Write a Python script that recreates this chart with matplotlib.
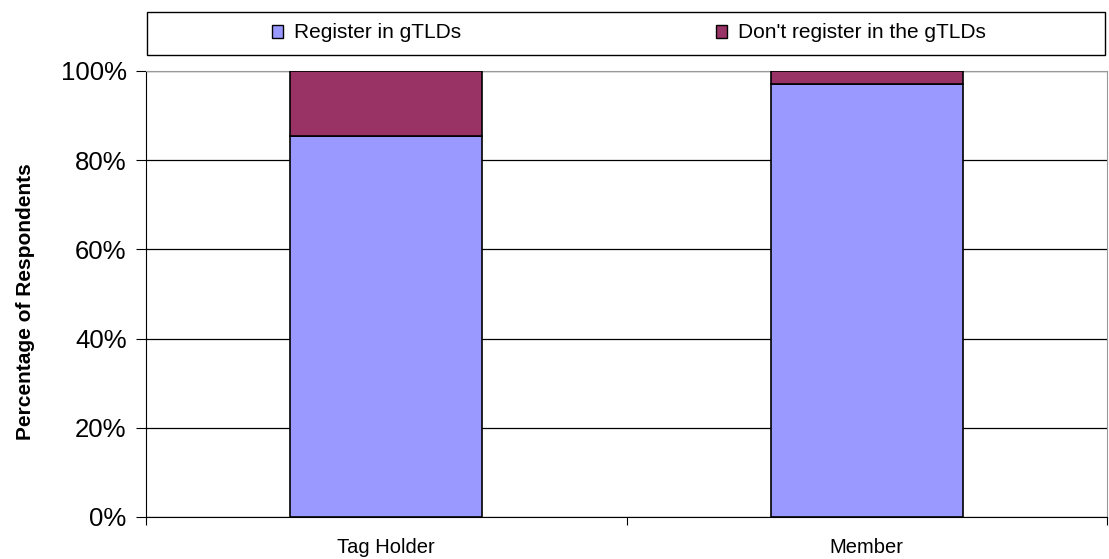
import matplotlib
matplotlib.use("Agg")
import matplotlib.pyplot as plt
import matplotlib.ticker as ticker
from matplotlib.patches import Patch, Rectangle

plt.rcParams["font.family"] = ["Liberation Sans", "DejaVu Sans"]

categories = ["Tag Holder", "Member"]
register = [85.4, 97.0]
dont_register = [14.6, 3.0]
series_labels = ["Register in gTLDs", "Don't register in the gTLDs"]
colors = ["#9999FF", "#993366"]

W, H = 1109, 559
fig = plt.figure(figsize=(W / 100, H / 100), dpi=100)
ax = fig.add_axes([146 / W, 1 - 517 / H, 961 / W, 446 / H])

x = [0.5, 1.5]
ax.bar(x, register, width=0.4, color=colors[0], edgecolor="black", linewidth=1.2, zorder=3)
ax.bar(x, dont_register, bottom=register, width=0.4, color=colors[1],
       edgecolor="black", linewidth=1.2, zorder=3)

ax.set_xlim(0, 2)
ax.set_ylim(0, 100)
ax.yaxis.set_major_locator(ticker.MultipleLocator(20))
ax.yaxis.set_major_formatter(ticker.FuncFormatter(lambda v, p: f"{v:.0f}%"))
ax.set_xticks([0, 1, 2])
ax.set_xticklabels([])
ax.set_xticks(x, minor=True)
ax.set_xticklabels(categories, minor=True, fontsize=14.5)
ax.tick_params(axis="x", which="minor", length=0, pad=15)
ax.tick_params(axis="x", which="major", length=6, direction="out")
ax.tick_params(axis="y", length=7, direction="out", labelsize=18.5, pad=7)

ax.grid(axis="y", color="black", linewidth=0.9, zorder=0)
for s in ["top", "right"]:
    ax.spines[s].set_color("#999999")
ax.spines["left"].set_color("black")
ax.spines["bottom"].set_color("black")

ax.set_ylabel("Percentage of Respondents", fontsize=15, fontweight="bold")
ax.yaxis.set_label_coords(-0.115, 0.482)

# legend box spanning the top
fig.add_artist(Rectangle((147 / W, 1 - 55 / H), 958 / W, 43 / H, transform=fig.transFigure,
                         facecolor="white", edgecolor="black", linewidth=1.0))
for lab, col, px in zip(series_labels, colors, [272, 716]):
    fig.legend([Patch(facecolor=col, edgecolor="black")], [lab], loc="center left",
               bbox_to_anchor=(px / W, 1 - 33 / H), frameon=False, fontsize=15,
               handlelength=0.55, handleheight=0.6, handletextpad=0.5,
               borderpad=0, borderaxespad=0)

fig.savefig("out.png", dpi=100)
